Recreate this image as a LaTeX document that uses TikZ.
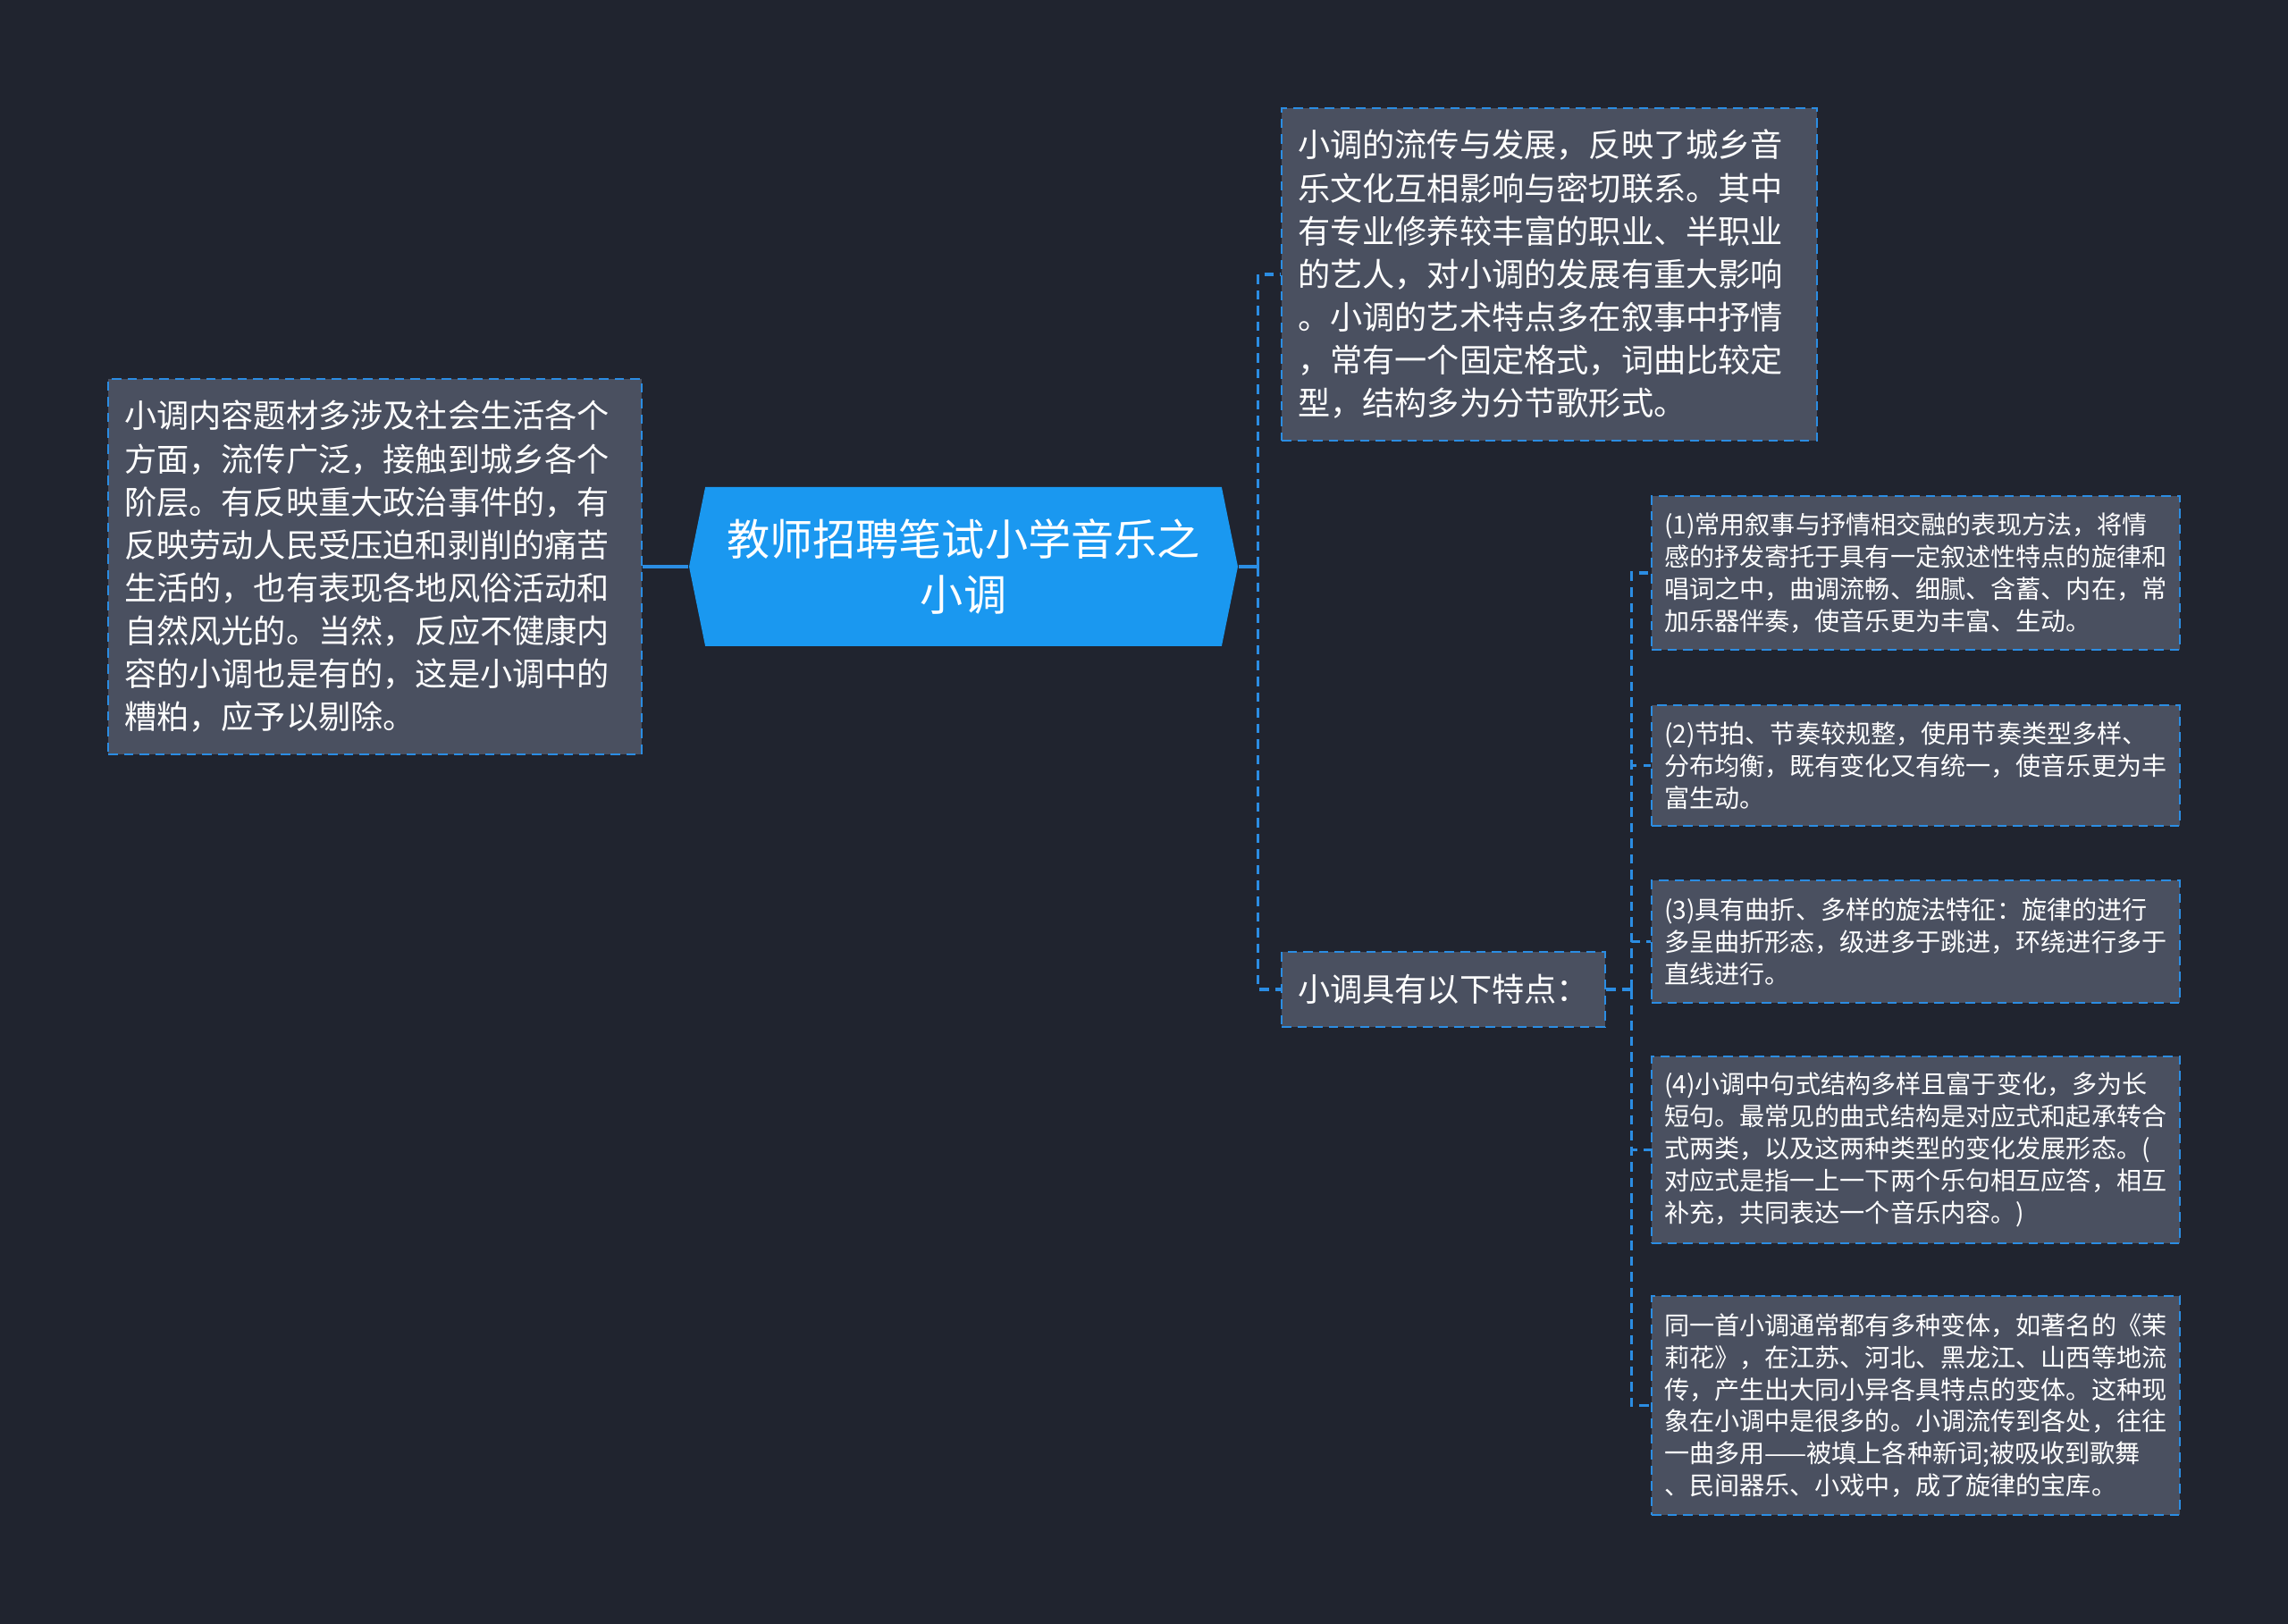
\documentclass[tikz,border=0pt]{standalone}
\usepackage{fontspec}
\setmainfont{Noto Sans CJK SC}
\usetikzlibrary{shapes.symbols}
\definecolor{bgdark}{HTML}{20242F}
\definecolor{boxfill}{HTML}{4A5060}
\definecolor{edgeblue}{HTML}{2B8DE3}
\definecolor{rootblue}{HTML}{1A98F0}
\tikzstyle{topic}=[rectangle,draw=edgeblue,fill=boxfill,dash pattern=on 3pt off 2pt,line width=0.8pt,text=white,align=left,inner xsep=0.18cm,inner ysep=0pt,font=\fontsize{10.3}{13.7}\selectfont]
\tikzstyle{sub}=[topic,inner xsep=0.14cm,font=\fontsize{8}{10.2}\selectfont]
\tikzstyle{root}=[signal,signal to=east and west,signal pointer angle=157,fill=rootblue,text=white,align=center,inner sep=0pt,font=\fontsize{13.7}{17.6}\selectfont]
\tikzstyle{link}=[draw=edgeblue,line width=0.9pt]
\tikzstyle{branch}=[link,dash pattern=on 3pt off 2pt]

\begin{document}
\begin{tikzpicture}
  \fill[bgdark] (0,0) rectangle (25.6,-18.17);
  \useasboundingbox (0,0) rectangle (25.6,-18.17);
  \node[root,minimum width=6.14cm,minimum height=1.78cm,text width=5.6cm] (root) at (10.78,-6.34) {教师招聘笔试小学音乐之\\小调};
  \node[topic,text width=5.61cm,minimum height=4.2cm] (detail) at (4.195,-6.34) {小调内容题材多涉及社会生活各个\\方面，流传广泛，接触到城乡各个\\阶层。有反映重大政治事件的，有\\反映劳动人民受压迫和剥削的痛苦\\生活的，也有表现各地风俗活动和\\自然风光的。当然，反应不健康内\\容的小调也是有的，这是小调中的\\糟粕，应予以剔除。};
  \node[topic,text width=5.63cm,minimum height=3.72cm] (intro) at (17.335,-3.07) {小调的流传与发展，反映了城乡音\\乐文化互相影响与密切联系。其中\\有专业修养较丰富的职业、半职业\\的艺人，对小调的发展有重大影响\\。小调的艺术特点多在叙事中抒情\\，常有一个固定格式，词曲比较定\\型，结构多为分节歌形式。};
  \node[topic,text width=3.26cm,minimum height=0.84cm] (feat) at (16.15,-11.07) {小调具有以下特点：};
  \node[sub,text width=5.63cm,minimum height=1.72cm] (f1) at (21.435,-6.41) {(1)常用叙事与抒情相交融的表现方法，将情\\感的抒发寄托于具有一定叙述性特点的旋律和\\唱词之中，曲调流畅、细腻、含蓄、内在，常\\加乐器伴奏，使音乐更为丰富、生动。};
  \node[sub,text width=5.63cm,minimum height=1.35cm] (f2) at (21.435,-8.565) {(2)节拍、节奏较规整，使用节奏类型多样、\\分布均衡，既有变化又有统一，使音乐更为丰\\富生动。};
  \node[sub,text width=5.63cm,minimum height=1.37cm] (f3) at (21.435,-10.535) {(3)具有曲折、多样的旋法特征：旋律的进行\\多呈曲折形态，级进多于跳进，环绕进行多于\\直线进行。};
  \node[sub,text width=5.63cm,minimum height=2.09cm] (f4) at (21.435,-12.865) {(4)小调中句式结构多样且富于变化，多为长\\短句。最常见的曲式结构是对应式和起承转合\\式两类，以及这两种类型的变化发展形态。(\\对应式是指一上一下两个乐句相互应答，相互\\补充，共同表达一个音乐内容。)};
  \node[sub,text width=5.63cm,minimum height=2.45cm] (f5) at (21.435,-15.725) {同一首小调通常都有多种变体，如著名的《茉\\莉花》，在江苏、河北、黑龙江、山西等地流\\传，产生出大同小异各具特点的变体。这种现\\象在小调中是很多的。小调流传到各处，往往\\一曲多用——被填上各种新词;被吸收到歌舞\\、民间器乐、小戏中，成了旋律的宝库。};
  \draw[link] (detail.east) -- (root.west);
  \draw[link] (root.east) -- ++(0.22,0) coordinate (trunk);
  \draw[branch] (trunk) |- (intro.west);
  \draw[branch] (trunk) |- (feat.west);
  \draw[branch] (feat.east) -- ++(0.28,0) coordinate (fork);
  \foreach \n in {f1,f2,f3,f4,f5}
    \draw[branch] (fork) |- (\n.west);
\end{tikzpicture}
\end{document}
